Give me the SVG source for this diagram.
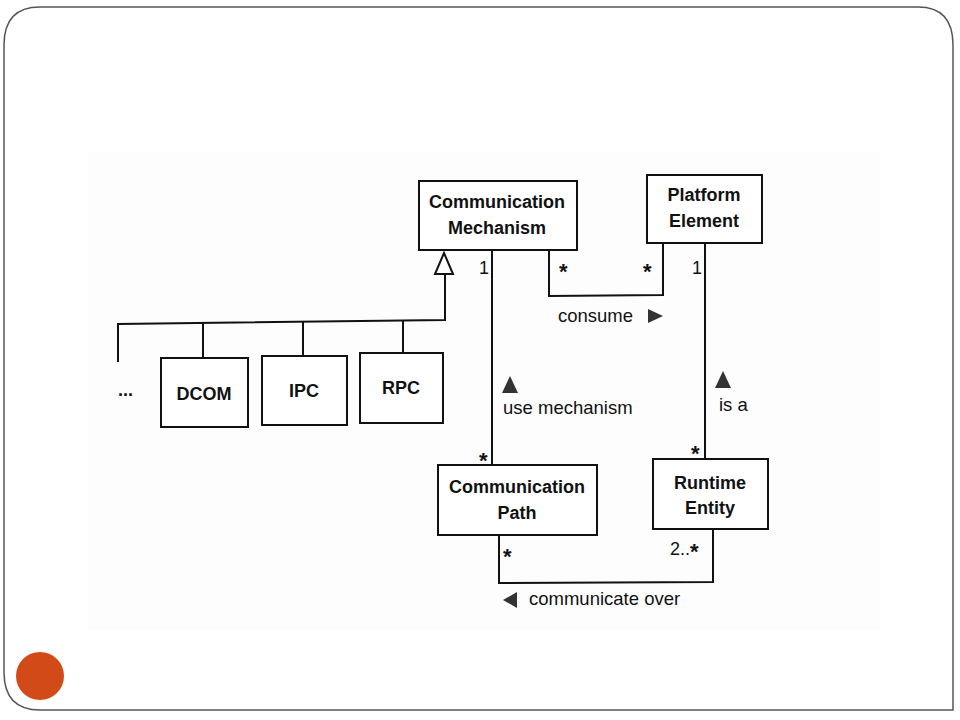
<svg xmlns="http://www.w3.org/2000/svg" width="960" height="720" viewBox="0 0 960 720">
<style>
.frame{fill:#fff;stroke:#555;stroke-width:1.5}
.box{fill:#fff;stroke:#111;stroke-width:2}
.ln{fill:none;stroke:#111;stroke-width:2}
.nt{font-family:"Liberation Sans",Arial,sans-serif;font-weight:bold;font-size:18px;fill:#111;text-anchor:middle}
.lb{font-family:"Liberation Sans",Arial,sans-serif;font-size:18.5px;fill:#111}
.m{font-family:"Liberation Sans",Arial,sans-serif;font-size:18px;fill:#111}
.st{font-family:"Liberation Sans",Arial,sans-serif;font-size:22px;font-weight:bold;fill:#111}
.tri{fill:#333}
</style>
<path class="frame" d="M4,45 Q4,7 40,7 L918,7 Q953,7 953,45 L953,710 L40,710 Q4,710 4,672 Z"/>
<rect x="86" y="152" width="794" height="478" fill="#fdfdfd"/>
<circle cx="40" cy="676" r="24" fill="#d24a17"/>
<g id="connectors">
<polygon points="444,253 435,274 453,274" fill="#fff" stroke="#111" stroke-width="2"/>
<polyline class="ln" points="445,274 445,320 118,324 118,362"/>
<line class="ln" x1="203" y1="322" x2="203" y2="358"/>
<line class="ln" x1="303" y1="321" x2="303" y2="356"/>
<line class="ln" x1="403" y1="321" x2="403" y2="353"/>
<line class="ln" x1="492" y1="250" x2="492" y2="465"/>
<polyline class="ln" points="549,250 549,296 663,295 663,243"/>
<line class="ln" x1="705" y1="243" x2="705" y2="459"/>
<polyline class="ln" points="499,535 499,583 713,582 713,529"/>
<text class="m" x="479" y="274">1</text>
<text class="st" x="559" y="279">*</text>
<text class="st" x="643" y="279">*</text>
<text class="m" x="692" y="274">1</text>
<text class="lb" x="558" y="322">consume</text>
<polygon class="tri" points="648,309 663,316 648,323"/>
<polygon class="tri" points="510,376 502,393 518,393"/>
<text class="lb" x="503" y="414">use mechanism</text>
<polygon class="tri" points="723,371 715,388 731,388"/>
<text class="lb" x="719" y="411">is a</text>
<text class="st" x="479" y="468">*</text>
<text class="st" x="691" y="461">*</text>
<text class="st" x="503" y="564">*</text>
<text class="m" x="670" y="555">2..<tspan class="st" dy="4">*</tspan></text>
<polygon class="tri" points="503,600 517,592 517,608"/>
<text class="lb" x="529" y="605">communicate over</text>
<text class="m" x="118" y="396" font-weight="bold">...</text>
</g>
<g id="comm-mechanism"><rect class="box" x="419" y="181" width="158" height="69"/><text class="nt" x="497" y="208">Communication</text><text class="nt" x="497" y="234">Mechanism</text></g>
<g id="platform-element"><rect class="box" x="647" y="175" width="115" height="68"/><text class="nt" x="704" y="201">Platform</text><text class="nt" x="704" y="227">Element</text></g>
<g id="dcom"><rect class="box" x="161" y="358" width="87" height="69"/><text class="nt" x="204" y="400">DCOM</text></g>
<g id="ipc"><rect class="box" x="262" y="356" width="85" height="69"/><text class="nt" x="304" y="397">IPC</text></g>
<g id="rpc"><rect class="box" x="360" y="353" width="83" height="70"/><text class="nt" x="401" y="394">RPC</text></g>
<g id="comm-path"><rect class="box" x="438" y="465" width="159" height="70"/><text class="nt" x="517" y="493">Communication</text><text class="nt" x="517" y="519">Path</text></g>
<g id="runtime-entity"><rect class="box" x="653" y="459" width="115" height="70"/><text class="nt" x="710" y="489">Runtime</text><text class="nt" x="710" y="514">Entity</text></g>
</svg>
